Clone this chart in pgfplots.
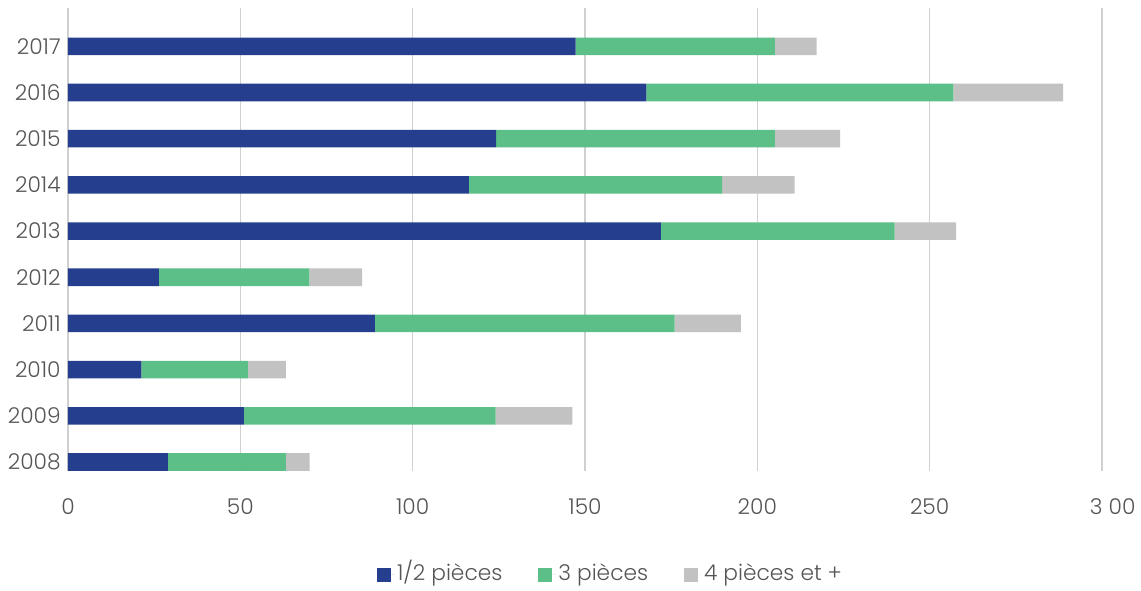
\documentclass[border=0pt]{standalone}
\usepackage{pgfplots}
\pgfplotsset{compat=1.18}
\usepackage{fontspec}
\setmainfont{Poppins}[UprightFont=* Light]
\usetikzlibrary{calc}
\definecolor{cblue}{HTML}{253F8E}
\definecolor{cgreen}{HTML}{5BBF87}
\definecolor{cgray}{HTML}{C1C2C1}
\definecolor{ctext}{HTML}{555555}
\definecolor{cgrid}{HTML}{D0D0D0}
\begin{document}
\begin{tikzpicture}
\begin{axis}[
  xbar stacked, bar width=13.2pt,
  scale only axis, width=775.5pt, height=347.25pt,
  xmin=0, xmax=300, ymin=-0.195, ymax=9.83,
  xtick={0,50,100,150,200,250,300},
  xticklabels={0,50,100,150,200,250,{\raisebox{4pt}{\hspace*{16pt}3 00}}},
  ytick={0,1,2,3,4,5,6,7,8,9},
  yticklabels={2008,2009,2010,2011,2012,2013,2014,2015,2016,2017},
  xmajorgrids, grid style={cgrid, line width=0.9pt},
  axis line style={draw=none}, major tick length=0pt,
  /pgf/number format/assume math mode=true,
  tick label style={font=\fontsize{16.3}{19}\selectfont, text=ctext},
  xticklabel style={yshift=-17.5pt},
  yticklabel style={xshift=-2pt},
  legend style={at={(0.525,-0.2246)}, anchor=center, draw=none, fill=none,
    legend columns=3, font=\fontsize{16.3}{19}\selectfont, text=ctext,
    nodes={text height=11.5pt, text depth=3.5pt},
    /tikz/every even column/.append style={column sep=25pt}},
  legend image code/.code={\fill[#1] (0pt,-5.25pt) rectangle (10.5pt,5.25pt); \path (0pt,0pt) -- (13pt,0pt);},
]
\addplot[fill=cblue, draw=none] coordinates {
 (29.0,0) (51.0,1) (21.3,2) (89.0,3) (26.4,4) (172.0,5) (116.3,6) (124.2,7) (167.8,8) (147.3,9)};
\addlegendentry{1/2 pièces}
\addplot[fill=cgreen, draw=none] coordinates {
 (34.2,0) (73.1,1) (30.9,2) (87.0,3) (43.6,4) (67.8,5) (73.5,6) (80.9,7) (89.1,8) (57.8,9)};
\addlegendentry{3 pièces}
\addplot[fill=cgray, draw=none] coordinates {
 (6.9,0) (22.2,1) (11.0,2) (19.2,3) (15.3,4) (17.9,5) (21.0,6) (18.9,7) (31.8,8) (12.1,9)};
\addlegendentry{4 pièces et +}
\end{axis}
\pgfresetboundingbox
\path ($(current axis.south west)+(-51pt,-89.25pt)$) rectangle ($(current axis.north east)+(29.25pt,6pt)$);
\end{tikzpicture}
\end{document}
